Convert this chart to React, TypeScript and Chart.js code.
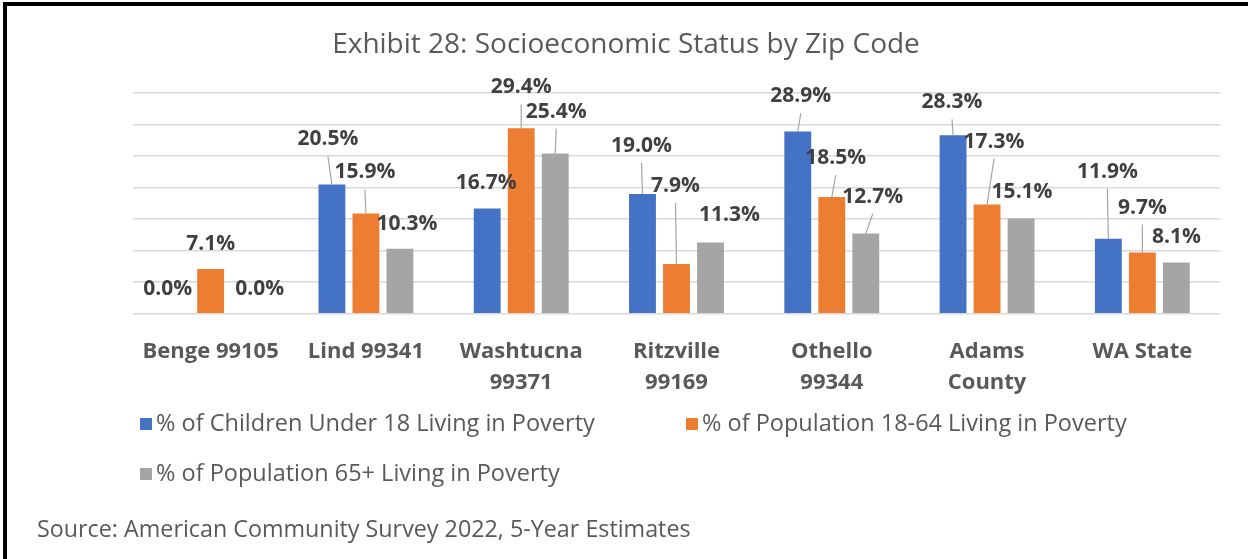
import React, { useEffect, useRef } from "react";
import { Chart, registerables } from "chart.js";

Chart.register(...registerables);

const TITLE = "Exhibit 28: Socioeconomic Status by Zip Code";
const SOURCE = "Source: American Community Survey 2022, 5-Year Estimates";

const CATEGORIES: string[][] = [
  ["Benge 99105"],
  ["Lind 99341"],
  ["Washtucna", "99371"],
  ["Ritzville", "99169"],
  ["Othello", "99344"],
  ["Adams", "County"],
  ["WA State"],
];

const SERIES_NAMES = [
  "% of Children Under 18 Living in Poverty",
  "% of Population 18-64 Living in Poverty",
  "% of Population 65+ Living in Poverty",
];

const CHILDREN = [0.0, 20.5, 16.7, 19.0, 28.9, 28.3, 11.9];
const ADULTS = [7.1, 15.9, 29.4, 7.9, 18.5, 17.3, 9.7];
const SENIORS = [0.0, 10.3, 25.4, 11.3, 12.7, 15.1, 8.1];

const Y_MIN = 0;
const Y_MAX = 35;
const Y_STEP = 5;

// styling: label nudges (dx, dy from bar top centre), per series
const CHILD_NUDGE = [[-9, -25], [-4, -45], [-1, -25], [-1, -48], [3, -35], [-1, -33], [-1, -67]];
const ADULT_NUDGE = [[0, -25], [-1, -41], [0, -41], [-1, -78], [4, -39], [7, -63], [0, -45]];
const SENIOR_NUDGE = [[15, -25], [7, -25], [1, -42], [19, -27], [7, -37], [1, -26], [0, -26]];
const NUDGES = [CHILD_NUDGE, ADULT_NUDGE, SENIOR_NUDGE];

const COLORS = ["#4472C4", "#ED7D31", "#A5A5A5"];
const FONT = "'Open Sans', sans-serif";
const TEXT = "#595959";

const decorPlugin = {
  id: "decor",
  beforeDraw(chart: any) {
    const ctx = chart.ctx;
    ctx.save();
    ctx.fillStyle = "#ffffff";
    ctx.fillRect(0, 0, chart.width, chart.height);
    ctx.restore();
  },
  afterDatasetsDraw(chart: any) {
    const ctx = chart.ctx;
    ctx.save();
    ctx.font = `bold 21px ${FONT}`;
    ctx.textAlign = "center";
    ctx.textBaseline = "middle";
    chart.data.datasets.forEach((ds: any, di: number) => {
      const meta = chart.getDatasetMeta(di);
      meta.data.forEach((bar: any, i: number) => {
        const v = ds.data[i];
        const [dx, dy] = NUDGES[di][i];
        const lx = bar.x + dx;
        const ly = bar.y + dy;
        if (dy < -30) {
          ctx.strokeStyle = "#A6A6A6";
          ctx.lineWidth = 1.2;
          ctx.beginPath();
          ctx.moveTo(lx, ly + 17);
          ctx.lineTo(bar.x, bar.y);
          ctx.stroke();
        }
        ctx.fillStyle = "#404040";
        ctx.fillText(`${v.toFixed(1)}%`, lx, ly);
      });
    });
    ctx.restore();
  },
  afterDraw(chart: any) {
    const ctx = chart.ctx;
    ctx.save();
    // frame
    ctx.fillStyle = "#000000";
    ctx.fillRect(3, 2, 1245, 4);
    ctx.fillRect(3, 2, 4, chart.height - 2);
    // title
    ctx.fillStyle = TEXT;
    ctx.font = `28px ${FONT}`;
    ctx.textAlign = "center";
    ctx.textBaseline = "middle";
    ctx.fillText(TITLE, 626, 45);
    // legend
    ctx.font = `23.5px ${FONT}`;
    ctx.textAlign = "left";
    const spots = [
      [140, 424],
      [686, 424],
      [140, 474],
    ];
    chart.data.datasets.forEach((ds: any, di: number) => {
      const [x, y] = spots[di];
      ctx.fillStyle = ds.backgroundColor;
      ctx.fillRect(x, y - 6, 12, 12);
      ctx.fillStyle = TEXT;
      ctx.fillText(ds.label, x + 16, y);
    });
    // source
    ctx.font = `23.3px ${FONT}`;
    ctx.fillStyle = TEXT;
    ctx.fillText(SOURCE, 37, 530);
    ctx.restore();
  },
};

export default function App() {
  const ref = useRef<HTMLCanvasElement | null>(null);
  useEffect(() => {
    if (!ref.current) return;
    const series = [CHILDREN, ADULTS, SENIORS];
    const chart = new Chart(ref.current, {
      type: "bar",
      data: {
        labels: CATEGORIES,
        datasets: series.map((d, i) => ({
          label: SERIES_NAMES[i],
          data: d,
          backgroundColor: COLORS[i],
          categoryPercentage: 0.657,
          barPercentage: 0.79,
        })),
      },
      options: {
        responsive: false,
        animation: false,
        layout: { padding: { left: 133, right: 28, top: 93, bottom: 0 } },
        plugins: {
          legend: { display: false },
          title: { display: false },
          tooltip: { enabled: false },
        },
        scales: {
          x: {
            grid: { display: false, drawTicks: false },
            border: { display: false },
            ticks: {
              autoSkip: false,
              maxRotation: 0,
              padding: 23,
              color: TEXT,
              font: { family: FONT, size: 22, weight: "bold", lineHeight: 1.41 },
            },
            afterFit: (s: any) => {
              s.height = 245.3;
            },
          },
          y: {
            min: Y_MIN,
            max: Y_MAX,
            ticks: { stepSize: Y_STEP, display: false },
            grid: { color: "#D9D9D9", lineWidth: 1.5, drawTicks: false },
            border: { display: false },
            afterFit: (s: any) => {
              s.width = 0;
            },
          },
        },
      },
      plugins: [decorPlugin],
    });
    return () => chart.destroy();
  }, []);
  return (
    <div style={{ position: "absolute", left: 0, top: 0, width: 1248, height: 559 }}>
      <canvas ref={ref} width={1248} height={559} style={{ display: "block" }} />
    </div>
  );
}
